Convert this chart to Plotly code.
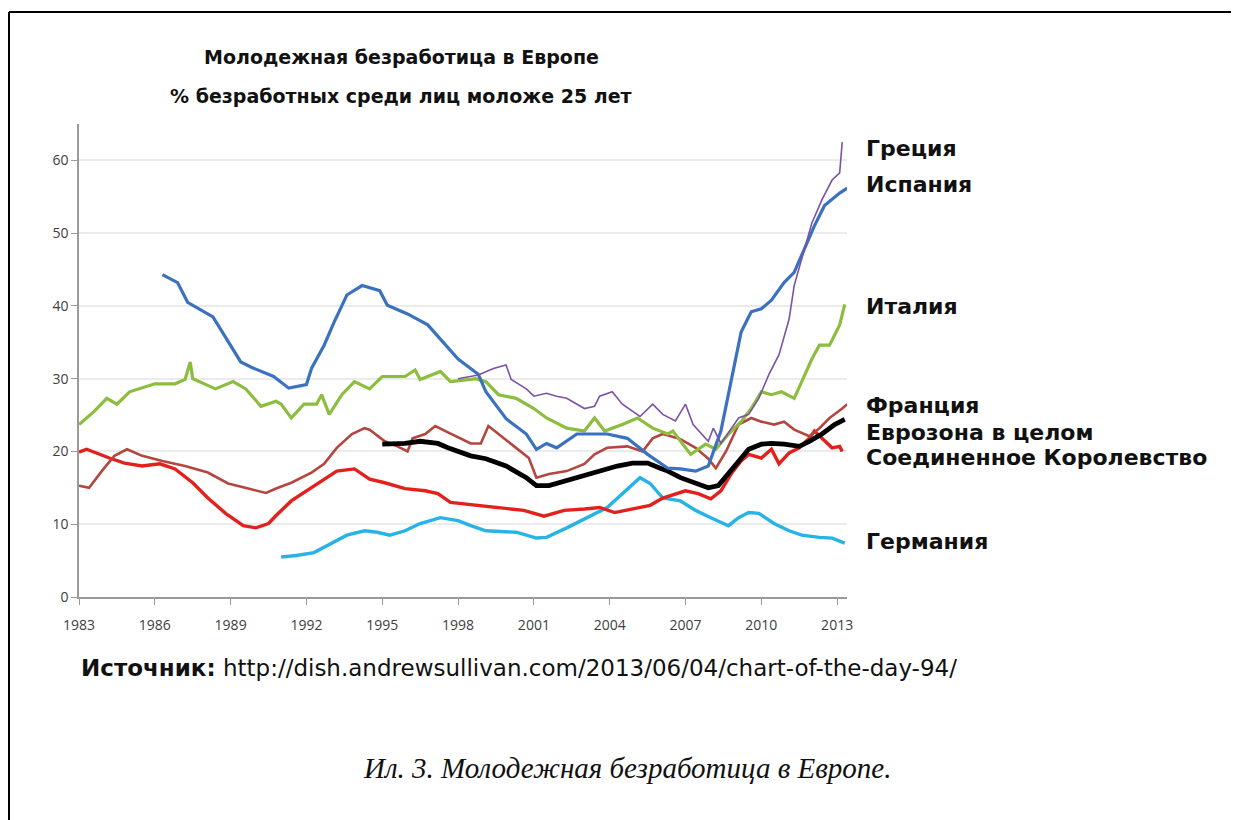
import plotly.graph_objects as go

# ---------------- data ----------------
spain_years = [1986.3, 1986.9, 1987.3, 1988.3, 1988.6, 1989.4, 1989.8, 1990.7, 1991.3, 1992.0,
               1992.2, 1992.7, 1993.1, 1993.6, 1994.2, 1994.7, 1994.9, 1995.2, 1996.0, 1996.8,
               1997.3, 1998.0, 1998.8, 1999.1, 1999.9, 2000.7, 2001.1, 2001.5, 2001.9, 2002.7,
               2003.9, 2004.7, 2005.5, 2006.3, 2006.8, 2007.4, 2007.9, 2008.4, 2008.8, 2009.2,
               2009.6, 2010.0, 2010.4, 2010.9, 2011.3, 2011.7, 2012.1, 2012.5, 2013.1, 2013.4]
spain_values = [44.3, 43.2, 40.5, 38.5, 36.8, 32.3, 31.6, 30.3, 28.7, 29.2,
                31.4, 34.6, 37.8, 41.5, 42.8, 42.3, 42.1, 40.1, 38.9, 37.4,
                35.5, 32.7, 30.6, 28.2, 24.5, 22.4, 20.3, 21.1, 20.5, 22.4,
                22.4, 21.8, 19.6, 17.7, 17.6, 17.3, 18.0, 22.8, 29.6, 36.4,
                39.2, 39.6, 40.8, 43.2, 44.6, 47.7, 51.0, 53.8, 55.5, 56.2]

greece_years = [1998.0, 1998.8, 1999.4, 1999.9, 2000.1, 2000.7, 2001.0, 2001.5, 2001.9, 2002.3,
                2003.0, 2003.4, 2003.6, 2004.1, 2004.5, 2005.2, 2005.7, 2006.1, 2006.6, 2007.0,
                2007.3, 2007.6, 2007.9, 2008.1, 2008.4, 2009.1, 2009.5, 2009.9, 2010.3, 2010.7,
                2011.1, 2011.3, 2011.6, 2012.0, 2012.4, 2012.8, 2013.1, 2013.2]
greece_values = [30.0, 30.5, 31.4, 31.9, 29.9, 28.6, 27.6, 28.0, 27.6, 27.3,
                 25.9, 26.2, 27.6, 28.2, 26.5, 24.8, 26.5, 25.1, 24.2, 26.5,
                 23.7, 22.5, 21.4, 23.2, 21.1, 24.6, 25.1, 27.3, 30.6, 33.3,
                 38.2, 42.8, 46.4, 51.4, 54.6, 57.3, 58.3, 62.5]

italy_years = [1983.0, 1983.6, 1984.1, 1984.5, 1985.0, 1986.0, 1986.8, 1987.2, 1987.4, 1987.5,
               1988.4, 1989.1, 1989.6, 1990.2, 1990.8, 1991.0, 1991.4, 1991.9, 1992.4, 1992.6,
               1992.9, 1993.4, 1993.9, 1994.5, 1995.0, 1995.9, 1996.3, 1996.5, 1997.3, 1997.7,
               1998.5, 1998.7, 1999.1, 1999.6, 2000.3, 2001.0, 2001.5, 2002.3, 2003.0, 2003.4,
               2003.8, 2004.5, 2005.1, 2005.7, 2006.3, 2006.5, 2007.2, 2007.8, 2008.2, 2008.7,
               2009.2, 2009.6, 2010.0, 2010.4, 2010.8, 2011.3, 2011.6, 2012.0, 2012.3, 2012.7,
               2013.1, 2013.3]
italy_values = [23.7, 25.5, 27.3, 26.5, 28.2, 29.3, 29.3, 29.9, 32.3, 30.0,
                28.6, 29.6, 28.6, 26.2, 26.9, 26.5, 24.6, 26.5, 26.5, 27.8,
                25.1, 27.8, 29.6, 28.6, 30.3, 30.3, 31.2, 29.9, 31.0, 29.6,
                29.9, 30.0, 29.6, 27.8, 27.3, 25.9, 24.6, 23.2, 22.8, 24.6,
                22.8, 23.7, 24.6, 23.2, 22.4, 22.8, 19.6, 21.0, 20.3, 22.4,
                24.1, 25.9, 28.2, 27.8, 28.2, 27.3, 29.6, 32.7, 34.6, 34.6,
                37.4, 40.2]

france_years = [1983.0, 1983.4, 1983.9, 1984.4, 1984.9, 1985.5, 1986.3, 1987.2, 1988.1, 1988.9,
                1989.7, 1990.4, 1990.8, 1991.4, 1992.2, 1992.7, 1993.2, 1993.8, 1994.3, 1994.5,
                1995.1, 1995.6, 1996.0, 1996.2, 1996.7, 1997.1, 1997.5, 1998.1, 1998.5, 1998.9,
                1999.2, 1999.6, 2000.3, 2000.8, 2001.1, 2001.6, 2002.3, 2003.0, 2003.4, 2003.9,
                2004.7, 2005.3, 2005.7, 2006.1, 2006.8, 2007.4, 2007.9, 2008.2, 2008.6, 2009.1,
                2009.6, 2010.0, 2010.5, 2010.9, 2011.3, 2011.9, 2012.3, 2012.7, 2013.2, 2013.4]
france_values = [15.3, 15.0, 17.3, 19.4, 20.3, 19.4, 18.7, 18.0, 17.1, 15.6,
                 14.9, 14.3, 14.9, 15.7, 17.1, 18.3, 20.5, 22.4, 23.2, 23.0,
                 21.4, 20.7, 20.0, 21.8, 22.4, 23.5, 22.8, 21.8, 21.1, 21.1,
                 23.5, 22.4, 20.5, 19.1, 16.4, 16.9, 17.3, 18.3, 19.6, 20.5,
                 20.7, 20.0, 21.8, 22.4, 21.7, 20.5, 19.0, 17.7, 20.0, 23.7,
                 24.6, 24.1, 23.7, 24.1, 23.0, 22.1, 23.2, 24.6, 25.9, 26.5]

uk_years = [1983.0, 1983.3, 1984.2, 1984.8, 1985.5, 1986.2, 1986.8, 1987.5, 1988.1, 1988.8,
            1989.5, 1990.0, 1990.5, 1990.8, 1991.4, 1992.2, 1992.8, 1993.2, 1993.9, 1994.5,
            1995.1, 1995.9, 1996.7, 1997.2, 1997.7, 1998.2, 1999.6, 2000.6, 2001.4, 2002.2,
            2003.0, 2003.6, 2004.2, 2004.9, 2005.6, 2006.1, 2007.0, 2007.5, 2008.0, 2008.4,
            2008.8, 2009.2, 2009.5, 2010.0, 2010.4, 2010.7, 2011.1, 2011.5, 2011.9, 2012.1,
            2012.4, 2012.8, 2013.1, 2013.2]
uk_values = [19.9, 20.3, 19.1, 18.4, 18.0, 18.3, 17.6, 15.7, 13.6, 11.5,
             9.8, 9.5, 10.1, 11.2, 13.2, 15.0, 16.4, 17.3, 17.6, 16.2,
             15.7, 14.9, 14.6, 14.2, 13.0, 12.8, 12.3, 11.9, 11.1, 11.9,
             12.1, 12.3, 11.6, 12.1, 12.6, 13.6, 14.6, 14.2, 13.5, 14.6,
             16.9, 18.7, 19.6, 19.1, 20.3, 18.3, 19.8, 20.5, 21.8, 22.8,
             21.8, 20.5, 20.7, 20.0]

euro_years = [1995.0, 1995.9, 1996.5, 1997.2, 1997.6, 1998.1, 1998.5, 1999.1, 1999.9, 2000.7,
              2001.1, 2001.6, 2002.3, 2003.0, 2003.6, 2004.3, 2004.9, 2005.5, 2006.0, 2006.3,
              2006.8, 2007.4, 2007.9, 2008.3, 2008.7, 2009.1, 2009.5, 2010.0, 2010.4, 2010.9,
              2011.5, 2011.9, 2012.4, 2012.9, 2013.3]
euro_values = [21.0, 21.1, 21.4, 21.1, 20.5, 19.8, 19.4, 19.0, 18.0, 16.4,
               15.3, 15.3, 16.0, 16.6, 17.3, 18.0, 18.4, 18.4, 17.7, 17.3,
               16.4, 15.6, 15.0, 15.3, 16.9, 18.7, 20.3, 21.0, 21.1, 21.0,
               20.7, 21.4, 22.4, 23.7, 24.4]

germany_years = [1991.0, 1991.6, 1992.3, 1993.0, 1993.6, 1994.3, 1994.8, 1995.3, 1995.9, 1996.5,
                 1997.3, 1998.0, 1998.5, 1999.1, 2000.3, 2001.1, 2001.5, 2002.3, 2003.1, 2003.9,
                 2004.5, 2005.2, 2005.6, 2006.1, 2006.8, 2007.4, 2008.0, 2008.7, 2009.1, 2009.5,
                 2009.9, 2010.5, 2011.1, 2011.6, 2012.3, 2012.8, 2013.3]
germany_values = [5.5, 5.7, 6.1, 7.4, 8.5, 9.1, 8.9, 8.5, 9.1, 10.1,
                  10.9, 10.5, 9.8, 9.1, 8.9, 8.1, 8.2, 9.5, 10.9, 12.3,
                  14.2, 16.4, 15.6, 13.6, 13.2, 11.9, 10.9, 9.8, 10.9, 11.6,
                  11.5, 10.1, 9.1, 8.5, 8.2, 8.1, 7.4]

x_ticks = [1983, 1986, 1989, 1992, 1995, 1998, 2001, 2004, 2007, 2010, 2013]
y_ticks = [0, 10, 20, 30, 40, 50, 60]

series = [
    ("Германия", germany_years, germany_values, "#27b3e8", 3.4),
    ("Соединенное Королевство", uk_years, uk_values, "#e3211c", 3.4),
    ("Франция", france_years, france_values, "#b5453f", 2.6),
    ("Еврозона в целом", euro_years, euro_values, "#000000", 4.8),
    ("Италия", italy_years, italy_values, "#8cbd3f", 3.2),
    ("Испания", spain_years, spain_values, "#3a72c0", 3.2),
    ("Греция", greece_years, greece_values, "#7b52a6", 1.6),
]

labels = [
    ("Греция", 148), ("Испания", 184), ("Италия", 306), ("Франция", 405),
    ("Еврозона в целом", 432), ("Соединенное Королевство", 457), ("Германия", 541),
]

# ---------------- figure ----------------
OFF = 8                      # page offset of the figure inside the browser window
W, H = 1239 - OFF, 820 - OFF
PLOT_LEFT, PLOT_RIGHT, PLOT_TOP, PLOT_BOTTOM = 79, 847, 124, 597   # screen pixels
L, T = PLOT_LEFT - OFF, PLOT_TOP - OFF
R = W - (PLOT_RIGHT - OFF)
B = H - (PLOT_BOTTOM - OFF)
PW, PH = W - L - R, H - T - B


def px_x(px):
    return (px - OFF - L) / PW


def px_y(py):
    return (H - B - (py - OFF)) / PH


fig = go.Figure()
for name, xs, ys, color, width in series:
    fig.add_trace(go.Scatter(x=xs, y=ys, mode="lines", name=name,
                             line=dict(color=color, width=width),
                             showlegend=False))

annotations = []
label_font = dict(family="DejaVu Sans", size=22, color="#111111")
for text, py in labels:
    annotations.append(dict(text="<b>%s</b>" % text, x=px_x(864), y=px_y(py),
                            xref="paper", yref="paper", xanchor="left", yanchor="middle",
                            showarrow=False, font=label_font))

title_font = dict(family="DejaVu Sans", size=19, color="#111111")
annotations.append(dict(text="<b>Молодежная безработица в Европе</b>", x=px_x(401), y=px_y(57),
                        xref="paper", yref="paper", xanchor="center", yanchor="middle",
                        showarrow=False, font=title_font))
annotations.append(dict(text="<b>% безработных среди лиц моложе 25 лет</b>", x=px_x(401), y=px_y(96),
                        xref="paper", yref="paper", xanchor="center", yanchor="middle",
                        showarrow=False, font=title_font))
annotations.append(dict(text="<b>Источник:</b> http://dish.andrewsullivan.com/2013/06/04/chart-of-the-day-94/",
                        x=px_x(79), y=px_y(668), xref="paper", yref="paper",
                        xanchor="left", yanchor="middle", showarrow=False,
                        font=dict(family="DejaVu Sans", size=23, color="#111111")))
annotations.append(dict(text="<i>Ил. 3. Молодежная безработица в Европе.</i>",
                        x=px_x(627), y=px_y(768), xref="paper", yref="paper",
                        xanchor="center", yanchor="middle", showarrow=False,
                        font=dict(family="Liberation Serif", size=29, color="#111111")))

frame = dict(type="line", xref="paper", yref="paper", line=dict(color="black", width=2))
fig.update_layout(
    width=W, height=H,
    margin=dict(l=L, r=R, t=T, b=B, pad=0),
    paper_bgcolor="white", plot_bgcolor="white",
    annotations=annotations,
    shapes=[dict(frame, x0=px_x(9), x1=px_x(9), y0=px_y(12), y1=px_y(830)),
            dict(frame, x0=px_x(9), x1=px_x(1250), y0=px_y(12), y1=px_y(12))],
)
fig.update_xaxes(range=[1983, 2013.39], tickvals=x_ticks, ticktext=[str(v) for v in x_ticks],
                 showgrid=False, zeroline=False, showline=True, linecolor="#9a9a9a", linewidth=1.5,
                 ticks="outside", ticklen=6, tickcolor="#9a9a9a", ticklabelstandoff=8,
                 tickfont=dict(family="Open Sans", size=14, color="#404040"))
fig.update_yaxes(range=[0, 65.0], tickvals=y_ticks, showgrid=True, gridcolor="#ebebeb", gridwidth=1.5,
                 zeroline=False, showline=True, linecolor="#9a9a9a", linewidth=1.5,
                 ticks="outside", ticklen=6, tickcolor="#9a9a9a",
                 tickfont=dict(family="Open Sans", size=14, color="#404040"))

fig.write_html("out.html")
